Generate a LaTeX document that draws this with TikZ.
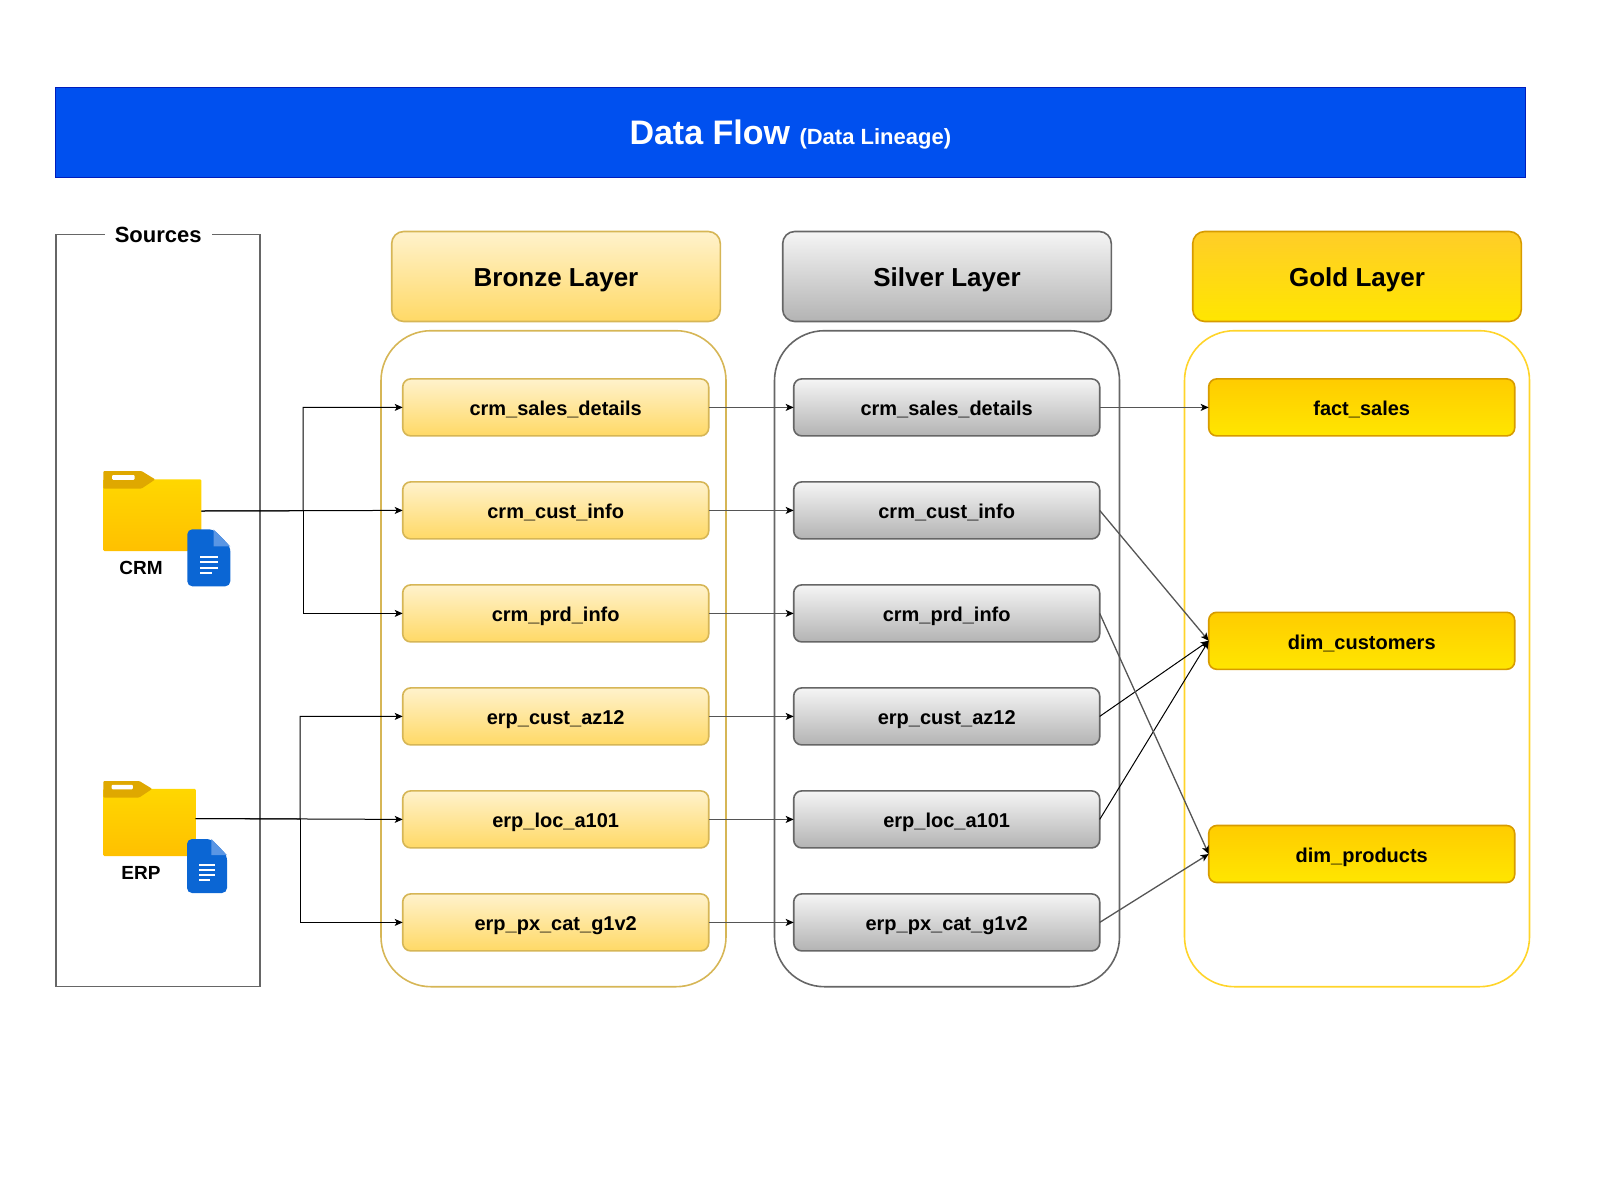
\documentclass[tikz,border=0pt]{standalone}
\usepackage{fontspec}
\setmainfont{Liberation Sans}
\usepackage{xcolor}
\usetikzlibrary{positioning,arrows.meta}

\definecolor{bannerblue}{HTML}{0050EF}
\definecolor{bannerline}{HTML}{001DBC}
\definecolor{bronzetop}{HTML}{FFF2CC}
\definecolor{bronzelow}{HTML}{FFD966}
\definecolor{bronzeline}{HTML}{D6B656}
\definecolor{silvertop}{HTML}{F5F5F5}
\definecolor{silverlow}{HTML}{B3B3B3}
\definecolor{silverline}{HTML}{666666}
\definecolor{goldhead}{HTML}{FFCD28}
\definecolor{goldtop}{HTML}{FFCC00}
\definecolor{goldlow}{HTML}{FFE600}
\definecolor{goldline}{HTML}{D79B00}
\definecolor{goldring}{HTML}{FFD42A}
\definecolor{linkgrey}{HTML}{555555}
\definecolor{foldertop}{HTML}{FFD700}
\definecolor{folderlow}{HTML}{FFC000}
\definecolor{foldertab}{HTML}{DFA800}
\definecolor{docblue}{HTML}{0B66D4}
\definecolor{docfold}{HTML}{5A96E4}

% folder: top left x, y, width, height
\newcommand{\foldericon}[4]{
\begin{scope}[shift={(#1,#2)},x=#3pt,y=-#4pt]
    \shade[top color=foldertop, bottom color=folderlow, rounded corners=1pt]
        (0,0.105) rectangle (1,1);
    \fill[foldertab, rounded corners=1pt] (0,0) -- (0.39,0) -- (0.53,0.105)
        -- (0.39,0.22) -- (0,0.22) -- cycle;
    \fill[white, rounded corners=1pt] (0.09,0.05) rectangle (0.32,0.11);
\end{scope}
}
% document: top left x, y, width, height
\newcommand{\docicon}[4]{
\begin{scope}[shift={(#1,#2)},x=#3pt,y=-#4pt]
    \fill[docblue, rounded corners=5pt] (0,0) -- (0.61,0) -- (1,0.3) -- (1,1) -- (0,1) -- cycle;
    \fill[docfold] (0.61,0) -- (1,0.3) -- (0.61,0.3) -- cycle;
    \draw[white, line width=2pt] (0.3,0.48) -- (0.71,0.48);
    \draw[white, line width=2pt] (0.3,0.58) -- (0.71,0.58);
    \draw[white, line width=2pt] (0.3,0.67) -- (0.71,0.67);
    \draw[white, line width=2pt] (0.3,0.76) -- (0.58,0.76);
\end{scope}
}

\begin{document}
\begin{tikzpicture}[
    x=1pt, y=-1pt,
    font=\fontsize{20}{24}\selectfont\bfseries,
    banner/.style={
        rectangle, draw=bannerline, fill=bannerblue, line width=1pt,
        minimum width=1470.5pt, minimum height=90pt, text=white,
        text height=24.5pt, text depth=0.3pt, inner sep=0pt, outer sep=0pt
    },
    frame/.style={
        rectangle, draw=silverline, line width=1.5pt,
        minimum width=204pt, minimum height=752pt, inner sep=0pt, outer sep=0pt
    },
    group/.style={
        rectangle, rounded corners=50pt, line width=1.6pt,
        minimum width=345pt, minimum height=656pt, inner sep=0pt, outer sep=0pt
    },
    header/.style={
        rectangle, rounded corners=12pt, line width=1.6pt,
        minimum width=328.6pt, minimum height=90pt,
        font=\fontsize{26}{30}\selectfont\bfseries,
        text height=21pt, text depth=0.4pt, inner sep=0pt, outer sep=0pt
    },
    item/.style={
        rectangle, rounded corners=8pt, line width=1.6pt,
        minimum width=306pt, minimum height=57pt,
        text height=17pt, text depth=0.2pt, inner sep=0pt, outer sep=0pt
    },
    bronze/.style={draw=bronzeline, top color=bronzetop, bottom color=bronzelow},
    silver/.style={draw=silverline, top color=silvertop, bottom color=silverlow},
    gold/.style={draw=goldline, top color=goldtop, bottom color=goldlow},
    folder/.style={rectangle, inner sep=0pt, outer sep=0pt},
    source/.style={font=\fontsize{19}{23}\selectfont\bfseries, inner sep=0pt},
    arrow/.style={-{Stealth[length=8pt,width=7pt,inset=2pt,color=black]}, line width=1pt, black},
    link/.style={arrow, line width=1.3pt, linkgrey}
]
\useasboundingbox (0,0) rectangle (1600,1200);

\node[banner] (title) at (790.3,132.7) {\fontsize{34}{40}\selectfont Data Flow \fontsize{22}{26}\selectfont(Data Lineage)};

% sources
\node[frame] (sourcesbox) at (158.2,610.7) {};
\node[fill=white, minimum width=107pt, inner sep=0pt, font=\fontsize{22}{26}\selectfont\bfseries] (sourcestitle) at (sourcesbox.north) {Sources};

\node[folder, minimum width=98pt, minimum height=80pt] (crmfolder) at (152.3,511) {};
\foldericon{103.3}{471}{98}{80}
\docicon{187.3}{529.3}{43}{57}
\node[source] (crmlabel) at (141,567.5) {CRM};

\node[folder, minimum width=92.4pt, minimum height=75pt] (erpfolder) at (149.5,818.5) {};
\foldericon{103.3}{781}{92.4}{75}
\docicon{187}{839}{40}{54}
\node[source] (erplabel) at (141,873) {ERP};

% layer groups
\node[group, draw=bronzeline] (bronzegroup) at (553.5,658.7) {};
\node[group, draw=silverline] (silvergroup) at (947,658.7) {};
\node[group, draw=goldring] (goldgroup) at (1357,658.7) {};

\node[header, bronze] (bronzehead) at (556,276.5) {Bronze Layer};
\node[header, silver] (silverhead) at (947,276.5) {Silver Layer};
\node[header, gold, top color=goldhead] (goldheader) at (1357,276.5) {Gold Layer};

% bronze tables
\node[item, bronze] (bronzesales) at (555.7,407.4) {crm\_sales\_details};
\node[item, bronze, below=46pt of bronzesales] (bronzecust) {crm\_cust\_info};
\node[item, bronze, below=46pt of bronzecust] (bronzeprd) {crm\_prd\_info};
\node[item, bronze, below=46pt of bronzeprd] (bronzeaz) {erp\_cust\_az12};
\node[item, bronze, below=46pt of bronzeaz] (bronzeloc) {erp\_loc\_a101};
\node[item, bronze, below=46pt of bronzeloc] (bronzepx) {erp\_px\_cat\_g1v2};

% silver tables
\node[item, silver, right=85pt of bronzesales] (silversales) {crm\_sales\_details};
\node[item, silver, right=85pt of bronzecust] (silvercust) {crm\_cust\_info};
\node[item, silver, right=85pt of bronzeprd] (silverprd) {crm\_prd\_info};
\node[item, silver, right=85pt of bronzeaz] (silveraz) {erp\_cust\_az12};
\node[item, silver, right=85pt of bronzeloc] (silverloc) {erp\_loc\_a101};
\node[item, silver, right=85pt of bronzepx] (silverpx) {erp\_px\_cat\_g1v2};

% gold tables
\node[item, gold, right=109pt of silversales] (factsales) {fact\_sales};
\node[item, gold, below=176.4pt of factsales] (dimcustomers) {dim\_customers};
\node[item, gold, below=156.2pt of dimcustomers] (dimproducts) {dim\_products};

% source connectors
\coordinate (crmjoint) at (303,510.7);
\coordinate (erpjoint) at (300,819);
\draw[arrow] (crmfolder.east) -- (crmjoint) |- (bronzesales.west);
\draw[arrow] (crmfolder.east) -- (bronzecust.west);
\draw[arrow] (crmjoint) |- (bronzeprd.west);
\draw[arrow] (erpfolder.east) -- (erpjoint) |- (bronzeaz.west);
\draw[arrow] (erpfolder.east) -- (bronzeloc.west);
\draw[arrow] (erpjoint) |- (bronzepx.west);

% bronze to silver
\draw[link] (bronzesales) -- (silversales);
\draw[link] (bronzecust) -- (silvercust);
\draw[link] (bronzeprd) -- (silverprd);
\draw[link] (bronzeaz) -- (silveraz);
\draw[link] (bronzeloc) -- (silverloc);
\draw[link] (bronzepx) -- (silverpx);

% silver to gold
\draw[link] (silversales) -- (factsales);
\draw[link] (silvercust.east) -- (dimcustomers.west);
\draw[arrow] (silveraz.east) -- (dimcustomers.west);
\draw[arrow] (silverloc.east) -- (dimcustomers.west);
\draw[link] (silverprd.east) -- (dimproducts.west);
\draw[link] (silverpx.east) -- (dimproducts.west);

\end{tikzpicture}
\end{document}
